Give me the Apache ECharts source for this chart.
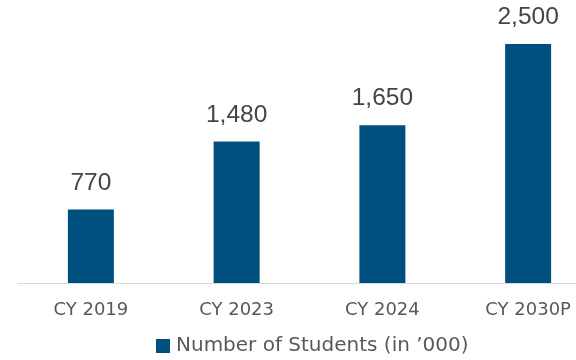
<!DOCTYPE html>
<html><head><meta charset="utf-8">
<script src="https://cdn.jsdelivr.net/npm/echarts@6/dist/echarts.min.js"></script>
<style>html,body{margin:0;padding:0;background:#fff}#c{width:576px;height:360px}</style>
</head><body><div id="c"></div>
<script>
const categories = ['CY 2019', 'CY 2023', 'CY 2024', 'CY 2030P'];
const students = [770, 1480, 1650, 2500];
const seriesName = 'Number of Students (in \u2019000)';

const chart = echarts.init(document.getElementById('c'), null, {renderer: 'canvas'});
chart.setOption({
  animation: false,
  textStyle: {fontFamily: 'Liberation Sans, Arial, sans-serif'},
  grid: {left: 18, width: 583, top: 0, height: 283, containLabel: false, outerBoundsMode: 'none'},
  legend: {
    data: [seriesName], top: 331, left: 151, itemWidth: 14, itemHeight: 14, itemGap: 5,
    icon: 'rect',
    textStyle: {fontSize: 20, fontFamily: 'DejaVu Sans', color: '#595959', padding: [0, 0, 0, 1]}
  },
  xAxis: {
    type: 'category', data: categories,
    axisLine: {lineStyle: {color: '#d9d9d9', width: 1}},
    axisTick: {show: false},
    axisLabel: {fontSize: 18, fontFamily: 'DejaVu Sans', color: '#595959', margin: 18}
  },
  yAxis: {type: 'value', min: 0, max: 2960, show: false, splitLine: {show: false}},
  series: [{
    name: seriesName, type: 'bar', data: students, barWidth: 46,
    itemStyle: {color: '#00507F'},
    label: {
      show: true, position: 'top', distance: 14, fontSize: 24.5, color: '#454545',
      formatter: p => p.value.toLocaleString('en-US')
    }
  }]
});
</script></body></html>
